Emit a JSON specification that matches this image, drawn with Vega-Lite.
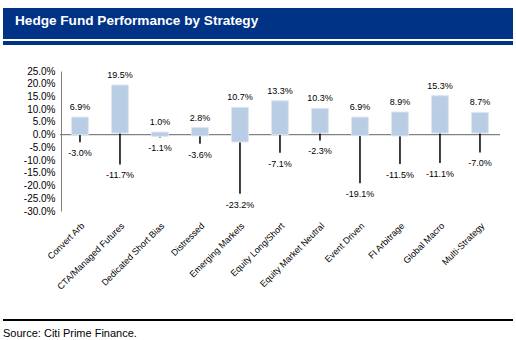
{
  "$schema": "https://vega.github.io/schema/vega-lite/v6.json",
  "background": "white",
  "padding": {"left": 3, "top": 8, "right": 3, "bottom": 5},
  "config": {
    "font": "Liberation Sans",
    "view": {"stroke": null},
    "locale": {"number": {"decimal": ".", "thousands": ",", "grouping": [3], "currency": ["$", ""], "minus": "-"}},
    "axisY": {"offset": -58, "domainColor": "#808080", "ticks": false, "grid": false, "labelFontSize": 10, "labelColor": "black", "labelPadding": 6, "labelOverlap": false, "title": null}
  },
  "spacing": 21,
  "vconcat": [
    {
      "spacing": 2,
      "vconcat": [
        {
          "width": 510,
          "height": 31,
          "view": {"fill": "#003286", "stroke": null},
          "title": {"text": "Hedge Fund Performance by Strategy", "orient": "top", "anchor": "start", "offset": -20, "dx": 12, "color": "white", "fontSize": 13.6, "fontWeight": "bold", "font": "Liberation Sans"},
          "mark": {"type": "text"},
          "encoding": {"text": {"value": ""}}
        },
        {
          "width": 510,
          "height": 4,
          "view": {"fill": "#003286", "stroke": null},
          "mark": {"type": "text"},
          "encoding": {"text": {"value": ""}}
        }
      ]
    },
    {
      "spacing": 27,
      "vconcat": [
        {
          "width": 510,
          "height": 140,
          "data": {
            "values": [
              {"strategy": "Convert Arb", "high": 0.069, "low": -0.030, "open": 0.0, "close": 0.069},
              {"strategy": "CTA/Managed Futures", "high": 0.195, "low": -0.117, "open": 0.006, "close": 0.195},
              {"strategy": "Dedicated Short Bias", "high": 0.010, "low": -0.011, "open": -0.007, "close": 0.010},
              {"strategy": "Distressed", "high": 0.028, "low": -0.036, "open": -0.005, "close": 0.028},
              {"strategy": "Emerging Markets", "high": 0.107, "low": -0.232, "open": -0.029, "close": 0.107},
              {"strategy": "Equity Long/Short", "high": 0.133, "low": -0.071, "open": 0.0, "close": 0.133},
              {"strategy": "Equity Market Neutral", "high": 0.103, "low": -0.023, "open": 0.006, "close": 0.103},
              {"strategy": "Event Driven", "high": 0.069, "low": -0.191, "open": -0.004, "close": 0.069},
              {"strategy": "FI Arbitrage", "high": 0.089, "low": -0.115, "open": -0.005, "close": 0.089},
              {"strategy": "Global Macro", "high": 0.153, "low": -0.111, "open": 0.006, "close": 0.153},
              {"strategy": "Multi-Strategy", "high": 0.087, "low": -0.070, "open": 0.006, "close": 0.087}
            ]
          },
          "encoding": {
            "x": {
              "field": "strategy",
              "type": "nominal",
              "sort": null,
              "scale": {"paddingInner": 0, "paddingOuter": 0.875, "align": 0.814},
              "axis": {"title": null, "domain": false, "ticks": false, "labelAngle": -45, "labelFontSize": 9, "labelColor": "black", "labelPadding": 10}
            }
          },
          "layer": [
            {
              "mark": {"type": "bar", "width": {"band": 1}, "fillOpacity": 0, "stroke": "#808080", "strokeWidth": 1},
              "encoding": {
                "y": {
                  "datum": 0,
                  "type": "quantitative",
                  "scale": {"domain": [-0.3, 0.25], "nice": false, "zero": false},
                  "axis": {"values": [-0.3, -0.25, -0.2, -0.15, -0.1, -0.05, 0, 0.05, 0.1, 0.15, 0.2, 0.25], "format": ".1%", "labelOverlap": false}
                },
                "y2": {"datum": 0}
              }
            },
            {
              "mark": {"type": "rule", "color": "black", "strokeWidth": 1.5},
              "encoding": {
                "y": {"field": "low", "type": "quantitative", "scale": {"domain": [-0.3, 0.25], "nice": false, "zero": false}, "axis": {"values": [-0.3, -0.25, -0.2, -0.15, -0.1, -0.05, 0, 0.05, 0.1, 0.15, 0.2, 0.25], "format": ".1%", "labelOverlap": false}},
                "y2": {"field": "high"}
              }
            },
            {
              "mark": {"type": "bar", "width": {"band": 0.42}, "color": "#B9CDE5", "stroke": "#DCE6F2", "strokeWidth": 1},
              "encoding": {
                "y": {"field": "open", "type": "quantitative", "scale": {"domain": [-0.3, 0.25], "nice": false, "zero": false}, "axis": {"values": [-0.3, -0.25, -0.2, -0.15, -0.1, -0.05, 0, 0.05, 0.1, 0.15, 0.2, 0.25], "format": ".1%", "labelOverlap": false}},
                "y2": {"field": "close"}
              }
            },
            {
              "mark": {"type": "text", "dy": -10, "fontSize": 9, "color": "black"},
              "encoding": {
                "y": {"field": "high", "type": "quantitative", "scale": {"domain": [-0.3, 0.25], "nice": false, "zero": false}, "axis": {"values": [-0.3, -0.25, -0.2, -0.15, -0.1, -0.05, 0, 0.05, 0.1, 0.15, 0.2, 0.25], "format": ".1%", "labelOverlap": false}},
                "text": {"field": "high", "type": "quantitative", "format": ".1%"}
              }
            },
            {
              "mark": {"type": "text", "dy": 11, "fontSize": 9, "color": "black"},
              "encoding": {
                "y": {"field": "low", "type": "quantitative", "scale": {"domain": [-0.3, 0.25], "nice": false, "zero": false}, "axis": {"values": [-0.3, -0.25, -0.2, -0.15, -0.1, -0.05, 0, 0.05, 0.1, 0.15, 0.2, 0.25], "format": ".1%", "labelOverlap": false}},
                "text": {"field": "low", "type": "quantitative", "format": ".1%"}
              }
            }
          ]
        },
        {
          "width": 510,
          "height": 2,
          "view": {"fill": "black", "stroke": null},
          "title": {"text": "Source: Citi Prime Finance.", "orient": "bottom", "anchor": "start", "offset": 7, "fontSize": 11, "fontWeight": "normal", "color": "black"},
          "mark": {"type": "text"},
          "encoding": {"text": {"value": ""}}
        }
      ]
    }
  ]
}
